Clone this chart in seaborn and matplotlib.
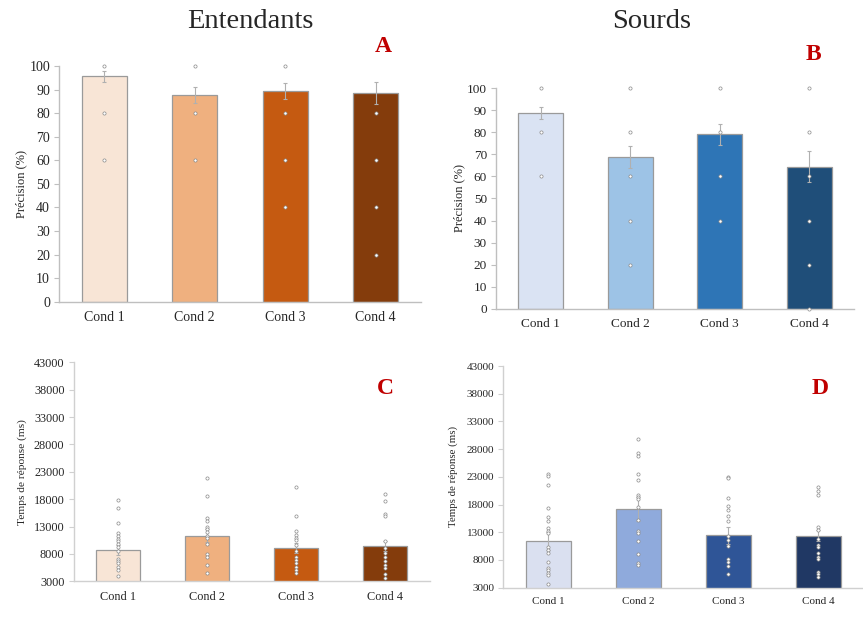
import matplotlib
matplotlib.use("Agg")
import matplotlib.pyplot as plt
import seaborn as sns
import pandas as pd

conditions = ["Cond 1", "Cond 2", "Cond 3", "Cond 4"]

# Accuracy (%) - hearing group
acc_hear_mean = [95.6, 87.7, 89.5, 88.6]
acc_hear_err = [2.3, 3.2, 3.3, 4.6]
acc_hear_pts = [[100, 80, 60], [100, 80, 60], [100, 80, 60, 40], [80, 60, 40, 20]]

# Accuracy (%) - deaf group
acc_deaf_mean = [88.7, 68.7, 79.1, 64.4]
acc_deaf_err = [2.8, 5.0, 4.7, 7.0]
acc_deaf_pts = [[100, 80, 60], [100, 80, 60, 40, 20], [100, 80, 60, 40],
                [100, 80, 60, 40, 20, 0]]

# Response time (ms) - hearing group
rt_hear_mean = [8700, 11330, 9080, 9500]
rt_hear_err = [900, 1200, 1000, 900]
rt_hear_pts = [
    [17900, 16400, 13700, 11800, 11300, 10800, 10400, 9800, 9300, 8600,
     7100, 6800, 6300, 5700, 5100, 4000],
    [21900, 18600, 14500, 14100, 12900, 12500, 12000, 11300, 10900, 9900,
     7900, 7400, 5900, 4600],
    [20200, 14900, 12200, 11500, 11000, 10500, 9700, 8600, 7500, 6900,
     6300, 5700, 5100, 4500],
    [18900, 17700, 15300, 14900, 10400, 9000, 8100, 7400, 6700, 6000,
     5400, 4300, 3600],
]

# Response time (ms) - deaf group
rt_deaf_mean = [11480, 17200, 12450, 12380]
rt_deaf_err = [1600, 2100, 1500, 1000]
rt_deaf_pts = [
    [23500, 23200, 21500, 17400, 15700, 15100, 13700, 13300, 12800, 10400,
     9800, 9200, 7600, 6500, 6200, 5700, 5200, 3600],
    [29800, 27300, 26800, 23500, 22400, 19700, 19400, 19000, 17600, 15300,
     13300, 12800, 11400, 9100, 7500, 7100],
    [23000, 22800, 19100, 17700, 17000, 16000, 15000, 12300, 11600, 10600,
     8100, 7700, 6900, 5400],
    [21100, 20500, 19700, 14000, 13400, 11700, 10700, 10300, 9300, 8500,
     8100, 5900, 5500, 5000],
]

orange_a = ["#F8E5D6", "#EFB07F", "#C55A11", "#843C0C"]
blue_b = ["#DAE3F3", "#9DC3E6", "#2E75B6", "#1F4E79"]
blue_d = ["#DAE0F0", "#8FAADC", "#2F5597", "#203864"]

sns.set_style("white")
plt.rcParams["font.family"] = ["Liberation Serif", "DejaVu Serif"]

fig = plt.figure(figsize=(8.63, 6.26), dpi=100)


def panel(rect, means, errs, pts, colors, ylim, yticks, ylabel,
          tick_fs, label_fs, spine_col, labelpad):
    ax = fig.add_axes(rect)
    sns.barplot(x=conditions, y=means, hue=conditions, palette=colors,
                order=conditions, hue_order=conditions, legend=False,
                width=0.5, saturation=1, edgecolor="#9a9a9a",
                linewidth=0.9, errorbar=None, ax=ax, zorder=2)
    ax.errorbar(range(len(conditions)), means, yerr=errs, fmt="none",
                ecolor="#b0b0b0", elinewidth=0.8, capsize=1.5,
                capthick=0.8, zorder=3)
    long = pd.DataFrame(
        [(c, v) for c, vals in zip(conditions, pts) for v in vals],
        columns=["cond", "val"])
    n_before = len(ax.collections)
    sns.stripplot(data=long, x="cond", y="val", order=conditions,
                  jitter=False, color="white", edgecolor="#8a8a8a",
                  linewidth=0.5, size=2.3, ax=ax, zorder=4)
    for coll in ax.collections[n_before:]:
        coll.set_clip_on(False)
    ax.set_xlim(-0.5, 3.5)
    ax.set_ylim(*ylim)
    ax.set_yticks(yticks)
    ax.set_xlabel("")
    ax.set_ylabel(ylabel, fontsize=label_fs, labelpad=labelpad)
    for s in ["top", "right"]:
        ax.spines[s].set_visible(False)
    for s in ["left", "bottom"]:
        ax.spines[s].set_color(spine_col)
        ax.spines[s].set_linewidth(1.0)
    ax.tick_params(axis="y", length=3.5, width=0.8, color=spine_col,
                   direction="out", labelsize=tick_fs, pad=3, left=True)
    ax.tick_params(axis="x", length=0, labelsize=tick_fs, pad=7)
    ax.set_facecolor("white")
    return ax


panel([0.0684, 0.518, 0.4195, 0.3766], acc_hear_mean, acc_hear_err,
      acc_hear_pts, orange_a, (0, 100), range(0, 101, 10),
      "Précision (%)", 10, 9, "#bfbfbf", 1.5)
panel([0.5747, 0.5069, 0.4148, 0.3521], acc_deaf_mean, acc_deaf_err,
      acc_deaf_pts, blue_b, (0, 100), range(0, 101, 10),
      "Précision (%)", 9.5, 9, "#bfbfbf", 1.5)
panel([0.0852, 0.0714, 0.4125, 0.3498], rt_hear_mean, rt_hear_err,
      rt_hear_pts, orange_a, (3000, 43000), range(3000, 43001, 5000),
      "Temps de réponse (ms)", 8.8, 8.2, "#d0d0d0", 4.5)
panel([0.5834, 0.0612, 0.4166, 0.3541], rt_deaf_mean, rt_deaf_err,
      rt_deaf_pts, blue_d, (3000, 43000), range(3000, 43001, 5000),
      "Temps de réponse (ms)", 8, 7.8, "#d0d0d0", 6)

W, H = 863, 626
fig.text(250 / W, 1 - 22 / H, "Entendants", fontsize=20.5,
         ha="center", va="center")
fig.text(652 / W, 1 - 22 / H, "Sourds", fontsize=20.5,
         ha="center", va="center")

red = "#C00000"
for lab, x, y in [("A", 383, 46), ("B", 813, 55), ("C", 385, 388),
                  ("D", 820, 389)]:
    fig.text(x / W, 1 - y / H, lab, fontsize=17, fontweight="bold",
             color=red, ha="center", va="center")

fig.savefig("out.png", dpi=100, facecolor="white")
